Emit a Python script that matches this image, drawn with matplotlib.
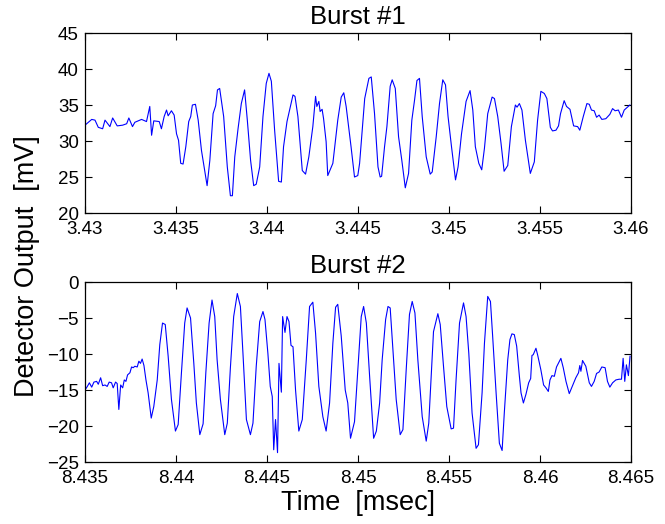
import matplotlib
matplotlib.use("Agg")
import matplotlib.pyplot as plt
from matplotlib.ticker import FuncFormatter

plt.rcParams['font.family'] = ['Liberation Sans', 'DejaVu Sans']

# Burst #1 (time in msec, detector output in mV)
t1 = [3.43000, 3.43037, 3.43055, 3.43073, 3.43097, 3.43110, 3.43137, 3.43152, 3.43177, 3.43207,
      3.43229, 3.43241, 3.43261, 3.43274, 3.43311, 3.43338, 3.43356, 3.43366, 3.43378, 3.43408,
      3.43420, 3.43435, 3.43448, 3.43457, 3.43475, 3.43490, 3.43503, 3.43514, 3.43526, 3.43539,
      3.43554, 3.43570, 3.43581, 3.43590, 3.43607, 3.43622, 3.43640, 3.43671, 3.43686, 3.43704,
      3.43718, 3.43728, 3.43740, 3.43762, 3.43782, 3.43799, 3.43810, 3.43823, 3.43841, 3.43859,
      3.43877, 3.43892, 3.43910, 3.43927, 3.43941, 3.43960, 3.43978, 3.43996, 3.44011, 3.44024,
      3.44042, 3.44064, 3.44079, 3.44091, 3.44110, 3.44124, 3.44143, 3.44154, 3.44170, 3.44194,
      3.44212, 3.44230, 3.44252, 3.44267, 3.44274, 3.44285, 3.44292, 3.44303, 3.44311, 3.44325,
      3.44334, 3.44362, 3.44389, 3.44408, 3.44422, 3.44435, 3.44462, 3.44481, 3.44499, 3.44509,
      3.44537, 3.44560, 3.44573, 3.44591, 3.44610, 3.44622, 3.44630, 3.44646, 3.44659, 3.44677,
      3.44688, 3.44705, 3.44723, 3.44741, 3.44760, 3.44778, 3.44796, 3.44811, 3.44824, 3.44838,
      3.44853, 3.44875, 3.44897, 3.44908, 3.44930, 3.44948, 3.44966, 3.44981, 3.44995, 3.45014,
      3.45036, 3.45050, 3.45069, 3.45094, 3.45116, 3.45131, 3.45145, 3.45164, 3.45180, 3.45195,
      3.45213, 3.45237, 3.45250, 3.45268, 3.45286, 3.45303, 3.45323, 3.45343, 3.45365, 3.45374,
      3.45387, 3.45401, 3.45420, 3.45447, 3.45469, 3.45487, 3.45505, 3.45524, 3.45538, 3.45557,
      3.45569, 3.45588, 3.45602, 3.45613, 3.45633, 3.45646, 3.45665, 3.45685, 3.45707, 3.45719,
      3.45738, 3.45758, 3.45771, 3.45783, 3.45798, 3.45811, 3.45825, 3.45840, 3.45862, 3.45884,
      3.45899, 3.45913, 3.45931, 3.45948, 3.45963, 3.45981, 3.45994]
v1 = [32.2, 33.0, 32.9, 31.9, 31.7, 32.9, 32.0, 33.2, 32.1, 32.2,
      32.4, 33.2, 32.0, 32.6, 33.0, 32.7, 34.8, 30.8, 32.8, 32.7,
      31.7, 33.4, 34.3, 33.5, 34.2, 33.6, 31.0, 30.1, 26.9, 26.8,
      29.2, 32.7, 33.4, 35.0, 35.1, 32.9, 28.7, 23.8, 27.3, 33.8,
      34.9, 37.1, 37.3, 33.4, 26.4, 22.4, 22.4, 27.8, 31.7, 35.2,
      37.1, 32.9, 27.3, 23.8, 24.0, 26.4, 33.4, 38.0, 39.4, 38.3,
      31.5, 24.4, 24.3, 29.2, 32.7, 34.3, 36.4, 36.2, 33.4, 25.9,
      25.4, 27.8, 32.0, 36.2, 34.8, 35.5, 34.1, 34.4, 33.1, 29.9,
      25.2, 26.9, 32.9, 36.1, 36.7, 34.8, 29.2, 25.0, 25.2, 26.9,
      35.9, 38.7, 38.9, 33.8, 26.4, 25.0, 25.1, 29.2, 32.0, 37.6,
      38.5, 37.3, 30.6, 27.3, 23.5, 25.5, 32.9, 35.7, 38.4, 38.7,
      33.4, 27.8, 25.4, 25.7, 30.6, 35.2, 38.5, 37.8, 33.4, 29.2,
      24.6, 26.4, 31.0, 35.5, 37.0, 34.3, 29.2, 26.9, 26.0, 29.0,
      33.8, 36.1, 35.9, 33.4, 29.7, 25.8, 26.6, 32.0, 35.0, 34.7,
      35.2, 34.3, 30.1, 25.5, 27.1, 32.9, 36.9, 36.6, 35.9, 31.9,
      31.4, 31.5, 32.1, 33.8, 35.6, 34.8, 34.4, 32.1, 32.0, 31.5,
      33.4, 35.2, 35.1, 34.3, 34.2, 33.3, 33.6, 33.0, 33.1, 33.7,
      34.5, 34.2, 34.3, 33.3, 34.3, 34.7, 35.0]

# Burst #2
t2 = [8.43500, 8.43513, 8.43524, 8.43537, 8.43549, 8.43564, 8.43573, 8.43586, 8.43597, 8.43610,
      8.43622, 8.43633, 8.43646, 8.43655, 8.43668, 8.43677, 8.43686, 8.43696, 8.43707, 8.43716,
      8.43725, 8.43734, 8.43747, 8.43756, 8.43765, 8.43774, 8.43787, 8.43796, 8.43805, 8.43814,
      8.43824, 8.43835, 8.43847, 8.43864, 8.43878, 8.43897, 8.43911, 8.43926, 8.43941, 8.43957,
      8.43975, 8.43997, 8.44012, 8.44030, 8.44048, 8.44061, 8.44080, 8.44098, 8.44112, 8.44131,
      8.44149, 8.44164, 8.44182, 8.44198, 8.44213, 8.44226, 8.44244, 8.44268, 8.44282, 8.44299,
      8.44317, 8.44337, 8.44354, 8.44368, 8.44387, 8.44409, 8.44423, 8.44441, 8.44460, 8.44478,
      8.44489, 8.44505, 8.44518, 8.44529, 8.44537, 8.44547, 8.44558, 8.44566, 8.44579, 8.44586,
      8.44599, 8.44610, 8.44621, 8.44632, 8.44643, 8.44657, 8.44675, 8.44694, 8.44716, 8.44734,
      8.44752, 8.44767, 8.44785, 8.44807, 8.44825, 8.44844, 8.44862, 8.44877, 8.44889, 8.44908,
      8.44930, 8.44944, 8.44959, 8.44981, 8.44999, 8.45009, 8.45018, 8.45031, 8.45046, 8.45064,
      8.45086, 8.45101, 8.45119, 8.45133, 8.45152, 8.45165, 8.45177, 8.45192, 8.45210, 8.45232,
      8.45247, 8.45265, 8.45283, 8.45298, 8.45313, 8.45329, 8.45353, 8.45375, 8.45389, 8.45402,
      8.45415, 8.45439, 8.45452, 8.45470, 8.45488, 8.45512, 8.45525, 8.45539, 8.45558, 8.45580,
      8.45594, 8.45609, 8.45627, 8.45649, 8.45662, 8.45682, 8.45695, 8.45713, 8.45728, 8.45740,
      8.45759, 8.45777, 8.45792, 8.45804, 8.45823, 8.45835, 8.45846, 8.45859, 8.45872, 8.45887,
      8.45896, 8.45909, 8.45923, 8.45938, 8.45949, 8.45956, 8.45963, 8.45978, 8.45987, 8.46005,
      8.46020, 8.46033, 8.46046, 8.46055, 8.46066, 8.46079, 8.46091, 8.46115, 8.46128, 8.46143,
      8.46161, 8.46179, 8.46197, 8.46212, 8.46219, 8.46225, 8.46234, 8.46252, 8.46271, 8.46283,
      8.46298, 8.46311, 8.46325, 8.46340, 8.46358, 8.46371, 8.46384, 8.46399, 8.46417, 8.46435,
      8.46448, 8.46457, 8.46466, 8.46475, 8.46486, 8.46495]
v2 = [-15.0, -14.5, -14.0, -14.6, -13.9, -13.8, -14.2, -13.3, -14.4, -14.3,
      -14.5, -13.9, -14.0, -14.7, -13.9, -14.1, -17.7, -14.3, -14.7, -13.6,
      -13.8, -12.9, -12.6, -11.8, -11.9, -11.7, -11.8, -11.0, -11.3, -10.7,
      -11.6, -13.6, -15.4, -18.9, -17.3, -13.6, -8.7, -5.7, -5.9, -10.3,
      -16.3, -20.7, -19.8, -12.6, -5.7, -3.6, -5.0, -11.3, -16.8, -21.2,
      -19.7, -12.6, -5.7, -2.5, -4.8, -10.8, -16.3, -21.2, -19.6, -11.9,
      -4.8, -1.6, -3.4, -9.9, -19.1, -21.2, -19.6, -11.7, -5.5, -4.1,
      -5.2, -9.9, -14.5, -15.9, -23.3, -19.1, -23.7, -11.3, -15.3, -4.8,
      -7.0, -4.8, -5.5, -8.8, -9.0, -15.0, -20.7, -19.1, -10.8, -3.4,
      -2.8, -7.1, -14.5, -18.7, -20.7, -16.8, -8.5, -3.5, -3.1, -7.5,
      -15.0, -16.8, -21.7, -19.4, -12.2, -8.0, -4.8, -3.4, -5.7, -13.1,
      -21.7, -20.7, -16.8, -10.8, -5.2, -3.4, -3.6, -9.4, -16.3, -21.2,
      -20.5, -12.2, -4.5, -2.7, -4.3, -10.8, -18.7, -22.1, -19.6, -13.1,
      -6.9, -4.4, -5.9, -11.7, -17.3, -20.4, -20.3, -13.6, -5.7, -2.9,
      -4.8, -9.9, -18.2, -23.1, -22.6, -15.4, -8.5, -2.0, -2.7, -7.5,
      -15.4, -22.4, -23.4, -18.2, -10.8, -8.0, -7.2, -7.3, -8.9, -13.1,
      -15.4, -16.8, -15.6, -14.0, -13.4, -10.2, -10.1, -9.2, -10.1, -12.2,
      -14.3, -14.7, -15.2, -13.6, -13.0, -13.1, -11.8, -10.6, -11.9, -13.8,
      -15.5, -14.4, -13.3, -12.6, -11.6, -12.4, -10.9, -11.7, -14.0, -14.5,
      -13.8, -12.7, -12.5, -11.8, -11.9, -13.8, -14.6, -14.0, -13.6, -13.5,
      -13.5, -10.6, -13.8, -11.5, -13.0, -10.3]

xticks1 = [3.43, 3.435, 3.44, 3.445, 3.45, 3.455, 3.46]
yticks1 = [20, 25, 30, 35, 40, 45]
xticks2 = [8.435, 8.44, 8.445, 8.45, 8.455, 8.46, 8.465]
yticks2 = [-25, -20, -15, -10, -5, 0]

fig = plt.figure(figsize=(6.65, 5.24), dpi=100)
ax1 = fig.add_axes([0.1278, 0.5935, 0.821, 0.3435])
ax2 = fig.add_axes([0.1278, 0.1183, 0.821, 0.3435])

panels = [
    (ax1, t1, v1, xticks1, yticks1, 'Burst #1'),
    (ax2, t2, v2, xticks2, yticks2, 'Burst #2'),
]
for ax, t, v, xt, yt, title in panels:
    ax.plot(t, v, color='#0000ff', linewidth=0.8)
    ax.set_xlim(xt[0], xt[-1])
    ax.set_ylim(yt[0], yt[-1])
    ax.set_xticks(xt)
    ax.set_yticks(yt)
    ax.xaxis.set_major_formatter(FuncFormatter(lambda x, p: f'{x:g}'))
    ax.tick_params(direction='in', length=5, width=0.8, top=True, right=True,
                   labelsize=13.5)
    ax.tick_params(axis='x', pad=6)
    ax.tick_params(axis='y', pad=4.5)
    for s in ax.spines.values():
        s.set_linewidth(0.9)
    ax.set_title(title, fontsize=18.5, pad=6.5)

ax2.set_xlabel('Time  [msec]', fontsize=19.5, labelpad=2)
fig.text(0.041, 0.493, 'Detector Output  [mV]', rotation=90, fontsize=19.5,
         ha='center', va='center')

fig.savefig('out.png', dpi=100)
